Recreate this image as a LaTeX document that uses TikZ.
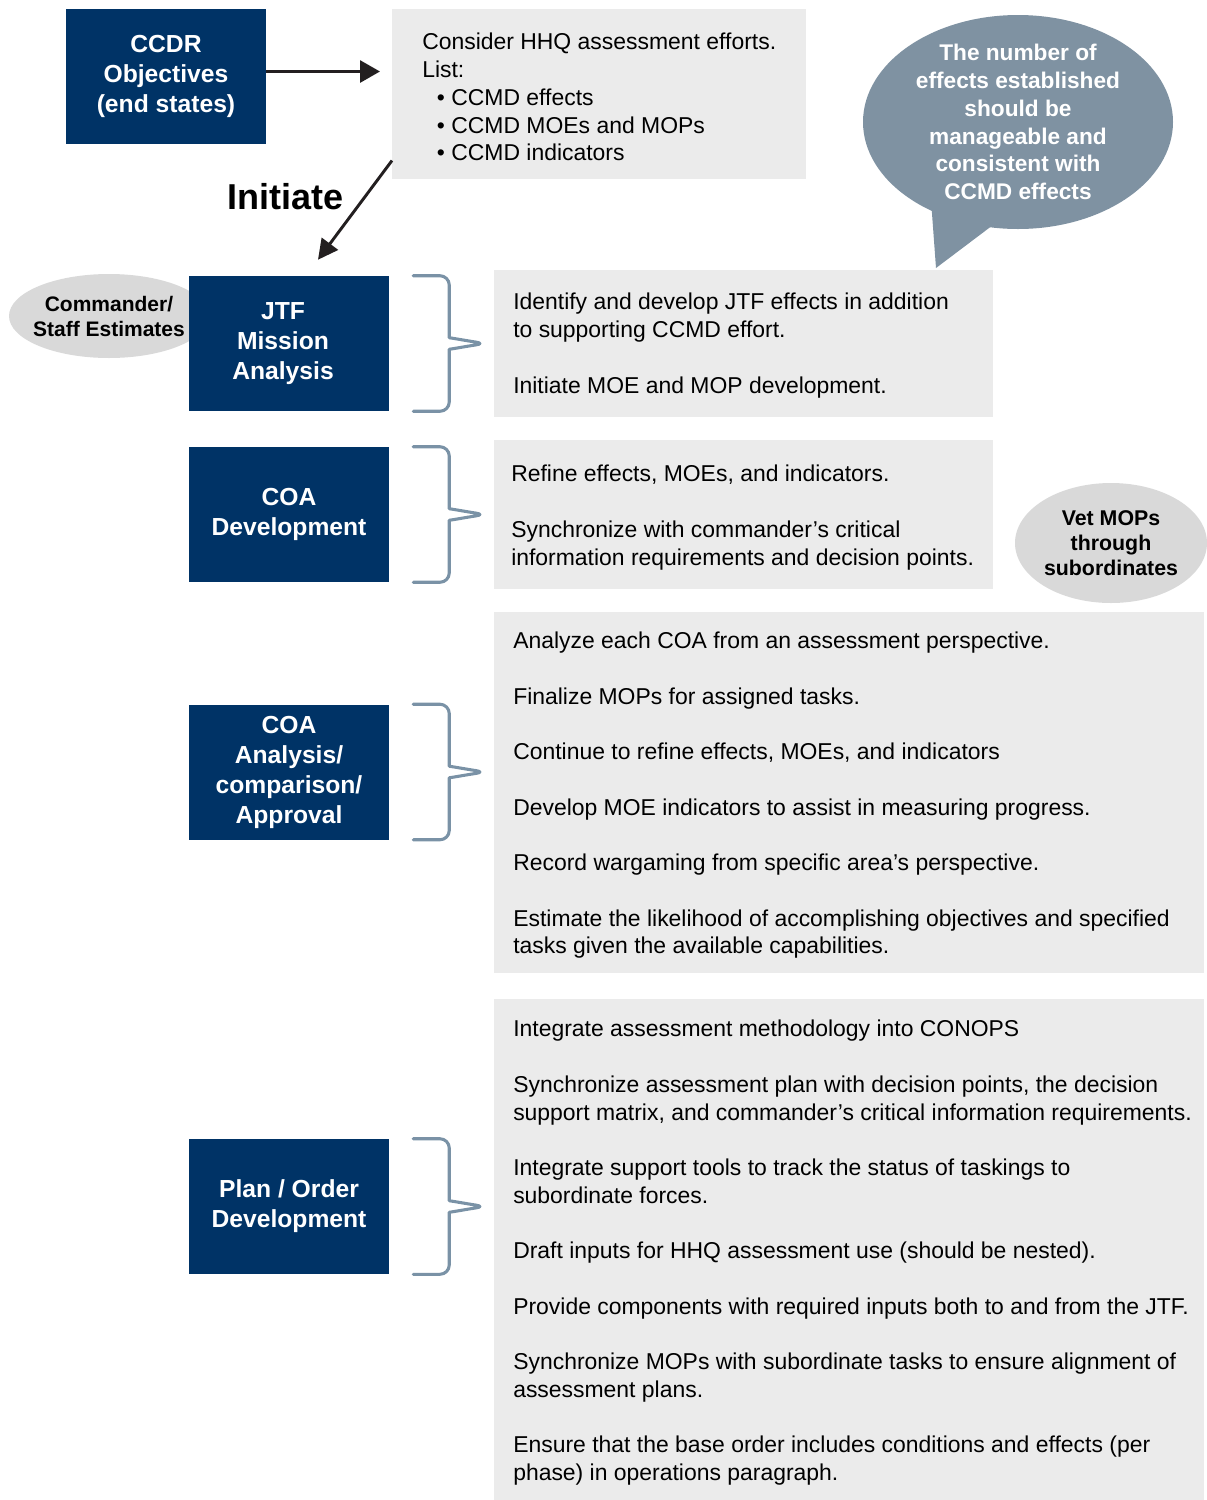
\documentclass[tikz,border=0pt]{standalone}
\usepackage{fontspec}
\setmainfont{Liberation Sans}
\usetikzlibrary{arrows.meta,calc,shapes.geometric}
\definecolor{navy}{RGB}{0,51,102}
\definecolor{panel}{RGB}{235,235,235}
\definecolor{slate}{RGB}{127,146,162}
\definecolor{ovalgray}{RGB}{217,217,217}
\definecolor{bracecol}{RGB}{122,146,166}
\definecolor{ink}{RGB}{35,31,32}
\newcommand\phasebrace[1]{%
  \draw[bracket, rounded corners=7pt] ($(#1.north east)+(24,0)$) -- ($(#1.north east)+(60,0)$) -- ($(#1.east)+(60,-15)$)
    .. controls ($(#1.east)+(60,-6)$) and ($(#1.east)+(76,-3)$) .. ($(#1.east)+(96,0)$)
    .. controls ($(#1.east)+(76,3)$) and ($(#1.east)+(60,6)$) .. ($(#1.east)+(60,15)$)
    -- ($(#1.south east)+(60,0)$) -- ($(#1.south east)+(24,0)$);}
\begin{document}
\begin{tikzpicture}[x=0.75pt,y=-0.75pt,
  phase/.style={rectangle, fill=navy, text=white, font=\fontsize{18.5}{22.5}\selectfont\bfseries, align=center, minimum width=150pt, minimum height=101.25pt, inner sep=0},
  panelbox/.style={rectangle, fill=panel, inner sep=0, anchor=north west},
  body/.style={anchor=north west, inner sep=0, align=left, font=\fontsize{17.2}{20.8}\selectfont, text=black},
  ovaltext/.style={inner sep=0, align=center, text=black},
  bracket/.style={draw=bracecol, line width=2.3pt, line cap=round, line join=round},
  arr/.style={draw=ink, line width=2.2pt}
]
\useasboundingbox (0,0) rectangle (1207,1500);

% panels
\node[panelbox, minimum width=310.5pt, minimum height=127.5pt] (hhq) at (392,9) {};
\node[panelbox, minimum width=374.25pt, minimum height=110.25pt] (p1) at (494,270) {};
\node[panelbox, minimum width=374.25pt, minimum height=111.75pt] (p2) at (494,440) {};
\node[panelbox, minimum width=532.5pt, minimum height=270.75pt] (p3) at (494,612) {};
\node[panelbox, minimum width=532.5pt, minimum height=375.75pt] (p4) at (494,999) {};

% panel texts
\node[body] (hhqt) at (422,33) {Consider HHQ assessment efforts.\\List:\\\hspace*{11pt}• CCMD effects\\\hspace*{11pt}• CCMD MOEs and MOPs\\\hspace*{11pt}• CCMD indicators};
\node[body] (t1) at (513,293) {Identify and develop JTF effects in addition\\to supporting CCMD effort.\\[20.8pt]Initiate MOE and MOP development.};
\node[body] (t2) at (511,465) {Refine effects, MOEs, and indicators.\\[20.8pt]Synchronize with commander’s critical\\information requirements and decision points.};
\node[body] (t3) at (513,632) {Analyze each COA from an assessment perspective.\\[20.8pt]Finalize MOPs for assigned tasks.\\[20.8pt]Continue to refine effects, MOEs, and indicators\\[20.8pt]Develop MOE indicators to assist in measuring progress.\\[20.8pt]Record wargaming from specific area’s perspective.\\[20.8pt]Estimate the likelihood of accomplishing objectives and specified\\tasks given the available capabilities.};
\node[body] (t4) at (513,1020) {Integrate assessment methodology into CONOPS\\[20.8pt]Synchronize assessment plan with decision points, the decision\\support matrix, and commander’s critical information requirements.\\[20.8pt]Integrate support tools to track the status of taskings to\\subordinate forces.\\[20.8pt]Draft inputs for HHQ assessment use (should be nested).\\[20.8pt]Provide components with required inputs both to and from the JTF.\\[20.8pt]Synchronize MOPs with subordinate tasks to ensure alignment of\\assessment plans.\\[20.8pt]Ensure that the base order includes conditions and effects (per\\phase) in operations paragraph.};

% ovals
\fill[ovalgray] (109,316) ellipse [x radius=100, y radius=42];
\node[ovaltext, font=\fontsize{15.75}{18.75}\selectfont\bfseries] (cmd) at (109,316) {Commander/\\Staff Estimates};
\fill[ovalgray] (1111,543) ellipse [x radius=96, y radius=60];
\node[ovaltext, font=\fontsize{16}{19}\selectfont\bfseries] (vet) at (1111,543) {Vet MOPs\\through\\subordinates};

% speech bubble
\fill[slate] (931,200) -- (936,268) coordinate (tailtip) -- (997,222) -- cycle;
\fill[slate] (1018,122) ellipse [x radius=155, y radius=107];
\node[inner sep=0, text=white, align=center, font=\fontsize{17}{20.85}\selectfont\bfseries] (note) at (1018,122) {The number of\\effects established\\should be\\manageable and\\consistent with\\CCMD effects};

% phase boxes
\node[phase] (ccdr) at (166,76.5) {CCDR\\Objectives\\(end states)};
\node[phase] (jtf) at (289,343.5) {};
\node[text=white, font=\fontsize{18.5}{22.5}\selectfont\bfseries, align=center, inner sep=0] (jtft) at ($(jtf.center)+(-6,0)$) {JTF\\Mission\\Analysis};
\node[phase] (coadev) at (289,514.5) {COA\\Development};
\node[phase] (coaana) at (289,772) {COA\\Analysis/\\comparison/\\Approval};
\node[phase] (plan) at (289,1206.5) {Plan / Order\\Development};

% brackets
\phasebrace{jtf}
\phasebrace{coadev}
\phasebrace{coaana}
\phasebrace{plan}

% arrows
\draw[arr, -{Triangle[length=15pt,width=16.5pt]}] ($(ccdr.east)+(0,-5)$) -- ($(hhq.west |- ccdr.east)+(-12,-5)$);
\draw[arr, -{Triangle[length=15pt,width=15pt]}] ($(hhq.south west)+(0,-19)$) -- ($(jtf.north)+(29,-16)$);
\node[font=\fontsize{27}{32}\selectfont\bfseries, inner sep=0] (init) at (285.5,197) {Initiate};
\end{tikzpicture}
\end{document}
